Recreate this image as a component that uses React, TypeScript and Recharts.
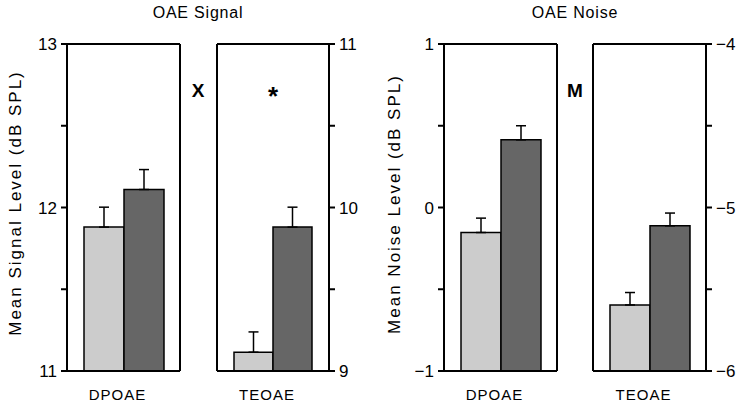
import React from "react";
import { BarChart, Bar, XAxis, YAxis, ErrorBar } from "recharts";

const signalCats = ["DPOAE", "TEOAE"];
const signalLight = [11.88, 9.115];
const signalDark = [12.11, 9.88];
const signalLightErr = [0.122, 0.124];
const signalDarkErr = [0.122, 0.122];

const noiseCats = ["DPOAE", "TEOAE"];
const noiseLight = [-0.153, -5.596];
const noiseDark = [0.414, -5.112];
const noiseLightErr = [0.088, 0.076];
const noiseDarkErr = [0.086, 0.078];

const signalTicks = [
  [11, 11.5, 12, 12.5, 13],
  [9, 9.5, 10, 10.5, 11],
];
const noiseTicks = [
  [-1, -0.5, 0, 0.5, 1],
  [-6, -5.5, -5, -4.5, -4],
];

const FONT = "'Liberation Sans', Arial, sans-serif";
const LIGHT = "#cccccc";
const DARK = "#666666";

const fmt = (v: number) =>
  Number.isInteger(v) ? (v < 0 ? "\u2212" + Math.abs(v) : String(v)) : "";

interface PanelProps {
  cat: string;
  light: number;
  dark: number;
  lightErr: number;
  darkErr: number;
  ticks: number[];
  side: "left" | "right";
  left: number;
  width: number;
  margin: { top: number; right: number; bottom: number; left: number };
}

const CatTick = (props: any) => {
  const { x, y, payload } = props;
  return (
    <text
      x={x - 6}
      y={y + 21}
      textAnchor="middle"
      fontSize={15}
      fontFamily={FONT}
      letterSpacing={1}
      fill="#000"
    >
      {payload.value}
    </text>
  );
};

const Panel: React.FC<PanelProps> = ({
  cat,
  light,
  dark,
  lightErr,
  darkErr,
  ticks,
  side,
  left,
  width,
  margin,
}) => {
  const min = ticks[0];
  const max = ticks[ticks.length - 1];
  const data = [
    {
      name: cat,
      light: [min, light],
      dark: [min, dark],
      lightErr: [0, lightErr],
      darkErr: [0, darkErr],
    },
  ];
  const axisLine = { stroke: "#000", strokeWidth: 2 };
  const tickStyle = { fontSize: 17, fontFamily: FONT, fill: "#000" };
  return (
    <div style={{ position: "absolute", left, top: 0 }}>
      <BarChart
        width={width}
        height={402}
        data={data}
        margin={margin}
        barCategoryGap={17}
        barGap={0}
      >
        <XAxis
          dataKey="name"
          xAxisId="bottom"
          height={30}
          axisLine={axisLine}
          tickLine={false}
          tick={<CatTick />}
          interval={0}
        />
        <XAxis
          dataKey="name"
          xAxisId="top"
          orientation="top"
          height={1}
          axisLine={axisLine}
          tickLine={false}
          tick={false}
        />
        <YAxis
          yAxisId="main"
          orientation={side}
          width={side === "left" ? 60 : 40}
          domain={[min, max]}
          ticks={ticks}
          tickFormatter={fmt}
          axisLine={axisLine}
          tickLine={{ stroke: "#000", strokeWidth: 2 }}
          tickSize={6}
          tickMargin={4}
          tick={tickStyle}
          allowDataOverflow
        />
        <YAxis
          yAxisId="other"
          orientation={side === "left" ? "right" : "left"}
          width={1}
          domain={[min, max]}
          axisLine={axisLine}
          tickLine={false}
          tick={false}
        />
        <Bar
          dataKey="light"
          xAxisId="bottom"
          yAxisId="main"
          fill={LIGHT}
          stroke="#000"
          strokeWidth={1.5}
          isAnimationActive={false}
        >
          <ErrorBar dataKey="lightErr" direction="y" width={5} stroke="#000" strokeWidth={1.5} />
        </Bar>
        <Bar
          dataKey="dark"
          xAxisId="bottom"
          yAxisId="main"
          fill={DARK}
          stroke="#000"
          strokeWidth={1.5}
          isAnimationActive={false}
        >
          <ErrorBar dataKey="darkErr" direction="y" width={5} stroke="#000" strokeWidth={1.5} />
        </Bar>
      </BarChart>
    </div>
  );
};

export default function App() {
  return (
    <div
      style={{
        position: "absolute",
        left: 0,
        top: 0,
        width: 750,
        height: 402,
        background: "#fff",
        overflow: "hidden",
      }}
    >
      <Panel
        cat={signalCats[0]}
        light={signalLight[0]}
        dark={signalDark[0]}
        lightErr={signalLightErr[0]}
        darkErr={signalDarkErr[0]}
        ticks={signalTicks[0]}
        side="left"
        left={0}
        width={200}
        margin={{ top: 43, right: 19, bottom: 1, left: 7 }}
      />
      <Panel
        cat={signalCats[1]}
        light={signalLight[1]}
        dark={signalDark[1]}
        lightErr={signalLightErr[1]}
        darkErr={signalDarkErr[1]}
        ticks={signalTicks[1]}
        side="right"
        left={200}
        width={175}
        margin={{ top: 43, right: 6, bottom: 1, left: 16 }}
      />
      <Panel
        cat={noiseCats[0]}
        light={noiseLight[0]}
        dark={noiseDark[0]}
        lightErr={noiseLightErr[0]}
        darkErr={noiseDarkErr[0]}
        ticks={noiseTicks[0]}
        side="left"
        left={375}
        width={200}
        margin={{ top: 43, right: 17, bottom: 1, left: 9 }}
      />
      <Panel
        cat={noiseCats[1]}
        light={noiseLight[1]}
        dark={noiseDark[1]}
        lightErr={noiseLightErr[1]}
        darkErr={noiseDarkErr[1]}
        ticks={noiseTicks[1]}
        side="right"
        left={575}
        width={175}
        margin={{ top: 43, right: 4, bottom: 1, left: 17 }}
      />
      <svg
        width={750}
        height={402}
        style={{ position: "absolute", left: 0, top: 0, pointerEvents: "none" }}
        fontFamily={FONT}
      >
        <text x={198} y={18} textAnchor="middle" fontSize={16} letterSpacing={0.8}>
          OAE Signal
        </text>
        <text x={575} y={18} textAnchor="middle" fontSize={16} letterSpacing={0.8}>
          OAE Noise
        </text>
        <text
          x={21}
          y={203}
          textAnchor="middle"
          fontSize={17}
          letterSpacing={2}
          transform="rotate(-90 21 203)"
        >
          Mean Signal Level (dB SPL)
        </text>
        <text
          x={400}
          y={204}
          textAnchor="middle"
          fontSize={17}
          letterSpacing={2}
          transform="rotate(-90 400 204)"
        >
          Mean Noise Level (dB SPL)
        </text>
        <text x={198} y={97} textAnchor="middle" fontSize={19} fontWeight="bold">
          X
        </text>
        <text x={273} y={105} textAnchor="middle" fontSize={26} fontWeight="bold">
          *
        </text>
        <text x={575} y={97} textAnchor="middle" fontSize={19} fontWeight="bold">
          M
        </text>
      </svg>
    </div>
  );
}
